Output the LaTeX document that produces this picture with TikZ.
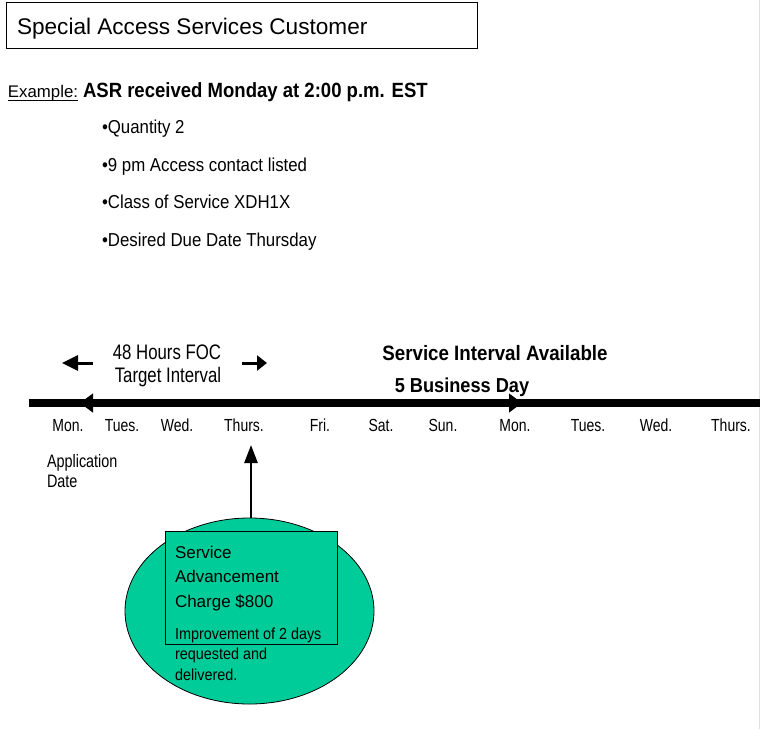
\documentclass[tikz,border=0pt]{standalone}
\usepackage{fontspec}
\setmainfont{Liberation Sans}
\newfontfamily\narA{Liberation Sans}[FakeStretch=0.8]
\newfontfamily\narB{Liberation Sans}[FakeStretch=0.9]
\usetikzlibrary{arrows.meta,shapes.geometric}
\definecolor{tealfill}{RGB}{0,204,153}
\newcommand{\fs}[1]{\fontsize{#1}{#1}\selectfont}
\begin{document}
\begin{tikzpicture}[x=1pt,y=-1pt,
  txt/.style={inner sep=0pt, outer sep=0pt, anchor=base west},
  ctxt/.style={inner sep=0pt, outer sep=0pt, anchor=base},
  day/.style={ctxt, font=\narA\fs{17.5}},
  bullet/.style={txt, font=\narB\fs{18.7}},
  boxtxt/.style={txt, font=\fs{17}},
  smalltxt/.style={txt, font=\narB\fs{16}},
]
\useasboundingbox (0,0) rectangle (760,729);
\fill[white] (0,0) rectangle (760,729);
\draw[gray!25, line width=1pt] (759.5,0) -- (759.5,729);

% title
\node (titlebox) [draw, line width=1pt, minimum width=471pt, minimum height=46pt, anchor=north west, inner sep=0pt] at (6,2) {};
\node (title) [txt, font=\fs{22.6}] at (17,34) {Special Access Services Customer};

% example
\node (ex) [txt, font=\fs{16.8}] at (8,97) {Example:};
\draw[line width=0.9pt] ([yshift=-3pt]ex.base west) -- ([yshift=-3pt]ex.base east);
\node (asr) [txt, font=\narB\bfseries\fs{20.6}] at (83,97) {ASR received Monday at 2:00 p.m. EST};

\node (b1) [bullet] at (102,133.5) {•Quantity 2};
\node (b2) [bullet] at (102,171) {•9 pm Access contact listed};
\node (b3) [bullet] at (102,208.5) {•Class of Service XDH1X};
\node (b4) [bullet] at (102,246) {•Desired Due Date Thursday};

% 48 hours
\node (foc1) [ctxt, font=\narA\fs{21}] at (167,359) {48 Hours FOC};
\node (foc2) [ctxt, font=\narA\fs{21}] at (168,382) {Target Interval};
\coordinate (la1) at (93,363);
\coordinate (la2) at (62,363);
\coordinate (ra1) at (242,363);
\coordinate (ra2) at (267,363);
\draw[line width=3pt, -{Triangle[length=16pt,width=15pt]}] (la1) -- (la2);
\draw[line width=3pt, -{Triangle[length=10pt,width=15pt]}] (ra1) -- (ra2);

% service interval
\node (sia) [ctxt, font=\narB\bfseries\fs{20.8}] at (495,360) {Service Interval Available};
\node (bd) [ctxt, font=\narB\bfseries\fs{20.2}] at (462,392) {5 Business Day};

% timeline
\coordinate (tl1) at (29,403);
\coordinate (tl2) at (760,403);
\draw[line width=8pt] (tl1) -- (tl2);
\coordinate (iv1) at (80,403);
\coordinate (iv2) at (522,403);
\draw[line width=1pt, {Triangle[length=13pt,width=19pt]}-{Triangle[length=13pt,width=19pt]}] (iv1) -- (iv2);

% days
\node (d1) [day] at (68,431) {Mon.};
\node (d2) [day] at (122,431) {Tues.};
\node (d3) [day] at (177,431) {Wed.};
\node (d4) [day] at (244,431) {Thurs.};
\node (d5) [day] at (320,431) {Fri.};
\node (d6) [day] at (381,431) {Sat.};
\node (d7) [day] at (443,431) {Sun.};
\node (d8) [day] at (515,431) {Mon.};
\node (d9) [day] at (588,431) {Tues.};
\node (d10) [day] at (656,431) {Wed.};
\node (d11) [day] at (731,431) {Thurs.};

\node (app1) [txt, font=\narA\fs{18}] at (47,467) {Application};
\node (app2) [txt, font=\narA\fs{18}] at (47,487) {Date};

% ellipse and box
\node (ell) [ellipse, draw, line width=0.8pt, fill=tealfill, minimum width=249pt, minimum height=186pt, inner sep=0pt] at (249.5,611) {};
\node (box) [draw, line width=1.2pt, fill=tealfill, minimum width=172pt, minimum height=113pt, anchor=north west, inner sep=0pt] at (165,531) {};
\coordinate (tip) at (251,445);
\draw[line width=2.6pt, -{Triangle[length=18pt,width=13pt]}] (ell.north -| tip) -- (tip);

\node (s1) [boxtxt] at (175,558) {Service};
\node (s2) [boxtxt] at (175,582.5) {Advancement};
\node (s3) [boxtxt] at (175,607) {Charge \$800};
\node (i1) [smalltxt] at (175,639) {Improvement of 2 days};
\node (i2) [smalltxt] at (175,659.5) {requested and};
\node (i3) [smalltxt] at (175,680) {delivered.};
\end{tikzpicture}
\end{document}
